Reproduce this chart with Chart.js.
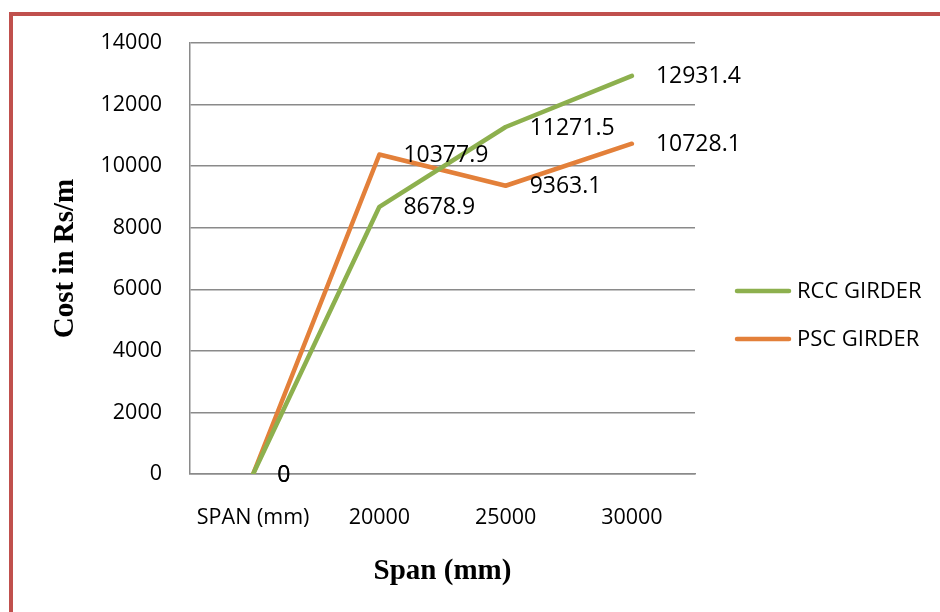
<!DOCTYPE html>
<html>
<head>
<meta charset="utf-8">
<script src="https://cdn.jsdelivr.net/npm/chart.js@4.4.1/dist/chart.umd.min.js"></script>
<style>
  html, body { margin: 0; padding: 0; background: #fff; }
  #wrap { width: 940px; height: 612px; position: relative; }
</style>
</head>
<body>
<div id="wrap"><canvas id="myChart" width="940" height="612"></canvas></div>
<script>
let spans = ["SPAN (mm)", "20000", "25000", "30000"]
let rccCost = [0, 8678.9, 11271.5, 12931.4]
let pscCost = [0, 10377.9, 9363.1, 10728.1]
let seriesNames = ["RCC GIRDER", "PSC GIRDER"]
let seriesColors = ["#8db04e", "#e3803a"]

const labelFont = "23px 'Open Sans'"
const gridGray = "#8a8a8a"

// red frame round the picture (top and left edges only)
const framePlugin = {
  id: "frame",
  beforeDraw(chart) {
    let c = chart.ctx
    c.save()
    c.fillStyle = "#fff"
    c.fillRect(0, 0, chart.width, chart.height)
    c.fillStyle = "#c0504d"
    c.fillRect(9, 12, chart.width - 9, 4)
    c.fillRect(9, 12, 4, chart.height - 12)
    c.restore()
  }
}

// value labels to the right of each point
const valueLabels = {
  id: "valueLabels",
  afterDatasetsDraw(chart) {
    let c = chart.ctx
    c.save()
    c.font = labelFont
    c.fillStyle = "#000"
    c.textAlign = "left"
    c.textBaseline = "middle"
    chart.data.datasets.forEach((ds, i) => {
      let meta = chart.getDatasetMeta(i)
      meta.data.forEach((pt, j) => {
        c.fillText(String(ds.data[j]), pt.x + 24, pt.y + 1)
      })
    })
    c.restore()
  }
}

// legend on the right, like the office one
const sideLegend = {
  id: "sideLegend",
  afterDraw(chart) {
    let c = chart.ctx
    c.save()
    c.font = "22px 'Open Sans'"
    c.textBaseline = "middle"
    c.textAlign = "left"
    chart.data.datasets.forEach((ds, i) => {
      let y = 291 + i * 48
      c.strokeStyle = ds.borderColor
      c.lineWidth = 4.5
      c.lineCap = "round"
      c.beginPath()
      c.moveTo(737, y)
      c.lineTo(789, y)
      c.stroke()
      c.fillStyle = "#000"
      c.fillText(ds.label, 797, y + 1)
    })
    c.restore()
  }
}

function draw() {
  const ctx = document.getElementById("myChart")
  new Chart(ctx, {
    type: "line",
    data: {
      labels: spans,
      datasets: [
        { label: seriesNames[0], data: rccCost, borderColor: seriesColors[0], backgroundColor: seriesColors[0] },
        { label: seriesNames[1], data: pscCost, borderColor: seriesColors[1], backgroundColor: seriesColors[1] }
      ]
    },
    options: {
      responsive: false,
      animation: false,
      devicePixelRatio: 1,
      layout: { padding: { left: 0, right: 245, top: 43, bottom: 0 } },
      elements: {
        line: { borderWidth: 4.5, tension: 0, borderJoinStyle: "round", borderCapStyle: "round" },
        point: { radius: 0, hoverRadius: 0 }
      },
      plugins: {
        legend: { display: false },
        tooltip: { enabled: false }
      },
      scales: {
        x: {
          offset: true,
          grid: { display: false, drawTicks: false },
          border: { display: true, color: gridGray, width: 1.5 },
          ticks: { color: "#000", font: { family: "Open Sans", size: 21.5 }, padding: 31, maxRotation: 0 },
          title: {
            display: true, text: "Span (mm)", color: "#000",
            font: { family: "Liberation Serif", size: 29, weight: "bold" },
            padding: { top: 0, bottom: 23 }
          },
          afterFit(scale) { scale.height = 138 }
        },
        y: {
          min: 0, max: 14000,
          ticks: {
            stepSize: 2000, color: "#000", font: { family: "Open Sans", size: 21.5 }, padding: 28,
            callback: v => String(v)
          },
          grid: { color: gridGray, lineWidth: 1.5, drawTicks: false },
          border: { display: true, color: gridGray, width: 1.5 },
          title: {
            display: true, text: "Cost in Rs/m", color: "#000",
            font: { family: "Liberation Serif", size: 29, weight: "bold" },
            padding: { top: 48, bottom: 0 }
          },
          afterFit(scale) { scale.width = 190 }
        }
      }
    },
    plugins: [framePlugin, valueLabels, sideLegend]
  })
}

Promise.all([
  document.fonts.load("22px 'Open Sans'"),
  document.fonts.load("bold 29px 'Liberation Serif'")
]).then(draw, draw)
</script>
</body>
</html>
